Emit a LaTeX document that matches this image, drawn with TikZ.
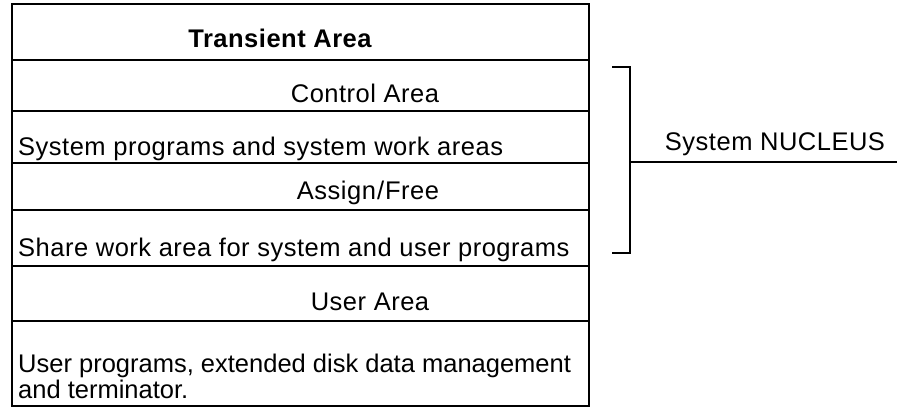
\documentclass[tikz,border=0pt]{standalone}
\usepackage{fontspec}
\setmainfont{Liberation Sans}[LetterSpace=2]
\begin{document}
\begin{tikzpicture}[x=1pt,y=-1pt,
  heavy/.style={line width=2.3pt},
  light/.style={line width=1.2pt},
  lbl/.style={inner sep=0pt, font=\fontsize{25.5}{27}\selectfont}]
\useasboundingbox (0,0) rectangle (897,410);
% outer box
\draw[heavy] (12,4) rectangle (589,406);
% separators
\draw[heavy] (12,60) -- (589,60);
\draw[light] (12,111) -- (589,111);
\draw[heavy] (12,163) -- (589,163);
\draw[light] (12,210) -- (589,210);
\draw[heavy] (12,266) -- (589,266);
\draw[heavy] (12,321) -- (589,321);
% texts
\node[lbl, anchor=base] (transient) at (280,47) {\bfseries Transient Area};
\node[lbl, anchor=base] (control) at (365,102) {Control Area};
\node[lbl, anchor=base west] (sysprog) at (18,155) {System programs and system work areas};
\node[lbl, anchor=base] (assign) at (368,199) {Assign\kern1pt/\kern1pt Free};
\node[lbl, anchor=base west] (share) at (18,256) {Share work area for system and user programs};
\node[lbl, anchor=base] (user) at (370,310) {User Area};
\node[lbl, anchor=base west] (userprogA) at (18,372) {\addfontfeature{LetterSpace=0}User programs, extended disk data management};
\node[lbl, anchor=base west] (userprogB) at (18,398) {\addfontfeature{LetterSpace=0}and terminator.};
% bracket
\coordinate (btop) at (612,67);
\coordinate (bcornerT) at (630,67);
\coordinate (bcornerB) at (630,253);
\coordinate (bbot) at (612,253);
\draw[heavy] (btop) -- (bcornerT) -- (bcornerB) -- (bbot);
\coordinate (bmid) at (630,162);
\coordinate (nend) at (897,162);
\draw[heavy] (bmid) -- (nend);
\node[lbl, anchor=base] (nucleus) at (775,150) {System NUCLEUS};
\end{tikzpicture}
\end{document}
